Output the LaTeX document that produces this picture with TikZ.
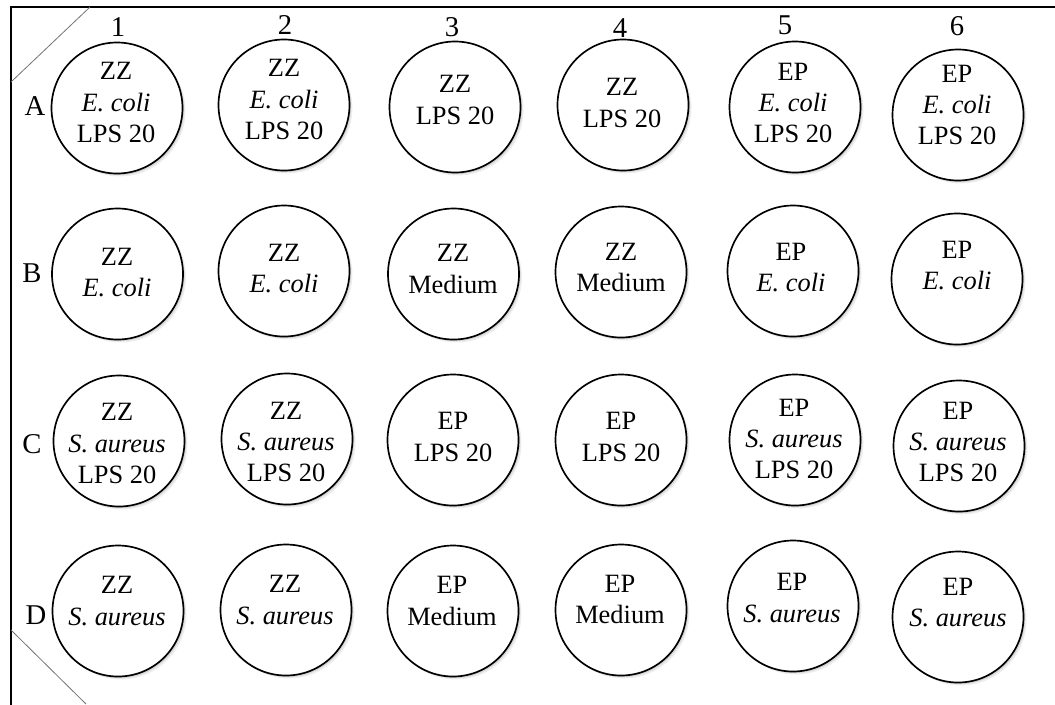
\documentclass[tikz,border=0pt]{standalone}
\usepackage{fontspec}
\setmainfont{Liberation Serif}
\usetikzlibrary{shadows}
\begin{document}
\begin{tikzpicture}[x=0.75pt,y=-0.75pt,
  well/.style={circle, draw=black, line width=1.25pt, fill=white, minimum size=98.25pt, inner sep=0pt,
    drop shadow={shadow xshift=2.2pt, shadow yshift=-2.2pt, fill=black!7, opacity=1},
    drop shadow={shadow xshift=1.2pt, shadow yshift=-1.2pt, fill=black!16, opacity=1}},
  welltext/.style={align=center, inner sep=0pt, font=\fontsize{19.8}{23.3}\selectfont},
  axislabel/.style={inner sep=0pt, font=\fontsize{21.5}{25}\selectfont},
  frameline/.style={line width=1.5pt, line cap=rect},
  cornerline/.style={line width=0.6pt, draw=black!55}]
\useasboundingbox (0,0) rectangle (1055,704);

% frame
\coordinate (fTR) at (1055,7);
\coordinate (fTL) at (11,7);
\coordinate (fBL) at (11,704);
\draw[frameline] (fTR) -- (fTL) -- (fBL);
\coordinate (c1a) at (90,7);
\coordinate (c1b) at (11,82);
\coordinate (c2a) at (11,630);
\coordinate (c2b) at (86,704);
\draw[cornerline] (c1a) -- (c1b);
\draw[cornerline] (c2a) -- (c2b);

% column labels
\node[axislabel] (col1) at (118,27) {1};
\node[axislabel] (col2) at (285,25) {2};
\node[axislabel] (col3) at (452,27) {3};
\node[axislabel] (col4) at (620,28) {4};
\node[axislabel] (col5) at (785,25) {5};
\node[axislabel] (col6) at (957,26) {6};

% row labels
\node[axislabel] (rowA) at (35,106) {A};
\node[axislabel] (rowB) at (32,273) {B};
\node[axislabel] (rowC) at (32,444) {C};
\node[axislabel] (rowD) at (36,615) {D};

% row A
\node[well] (A1) at (117,108) {};
\node[well] (A2) at (284,105) {};
\node[well] (A3) at (455,107) {};
\node[well] (A4) at (623,105) {};
\node[well] (A5) at (795,107) {};
\node[well] (A6) at (958,115) {};
\node[welltext] (tA1) at (116,102.5) {ZZ\\\itshape E. coli\\LPS 20};
\node[welltext] (tA2) at (284,99.5) {ZZ\\\itshape E. coli\\LPS 20};
\node[welltext] (tA3) at (455,100) {ZZ\\LPS 20};
\node[welltext] (tA4) at (622,103) {ZZ\\LPS 20};
\node[welltext] (tA5) at (793,103) {EP\\\itshape E. coli\\LPS 20};
\node[welltext] (tA6) at (957,105) {EP\\\itshape E. coli\\LPS 20};

% row B
\node[well] (B1) at (117.5,274) {};
\node[well] (B2) at (284,271) {};
\node[well] (B3) at (453.5,274) {};
\node[well] (B4) at (621,272) {};
\node[well] (B5) at (793,271) {};
\node[well] (B6) at (957,279) {};
\node[welltext] (tB1) at (117,272.5) {ZZ\\\itshape E. coli};
\node[welltext] (tB2) at (284,268.5) {ZZ\\\itshape E. coli};
\node[welltext] (tB3) at (453,269) {ZZ\\Medium};
\node[welltext] (tB4) at (621,267.5) {ZZ\\Medium};
\node[welltext] (tB5) at (791,267.5) {EP\\\itshape E. coli};
\node[welltext] (tB6) at (957,266) {EP\\\itshape E. coli};

% row C
\node[well] (C1) at (119,441) {};
\node[well] (C2) at (287,439) {};
\node[well] (C3) at (453,440) {};
\node[well] (C4) at (621,440) {};
\node[well] (C5) at (795,440) {};
\node[well] (C6) at (959,446) {};
\node[welltext] (tC1) at (117,443.5) {ZZ\\\itshape S. aureus\\LPS 20};
\node[welltext] (tC2) at (286,442) {ZZ\\\itshape S. aureus\\LPS 20};
\node[welltext] (tC3) at (453,437) {EP\\LPS 20};
\node[welltext] (tC4) at (621,437) {EP\\LPS 20};
\node[welltext] (tC5) at (794,439) {EP\\\itshape S. aureus\\LPS 20};
\node[welltext] (tC6) at (958,442) {EP\\\itshape S. aureus\\LPS 20};

% row D
\node[well] (D1) at (118,611) {};
\node[well] (D2) at (286,610) {};
\node[well] (D3) at (453,611) {};
\node[well] (D4) at (621,610) {};
\node[well] (D5) at (793,606) {};
\node[well] (D6) at (958,617) {};
\node[welltext] (tD1) at (117,601) {ZZ\\\itshape S. aureus};
\node[welltext] (tD2) at (285,600) {ZZ\\\itshape S. aureus};
\node[welltext] (tD3) at (452,601) {EP\\Medium};
\node[welltext] (tD4) at (620,599.5) {EP\\Medium};
\node[welltext] (tD5) at (792,598) {EP\\\itshape S. aureus};
\node[welltext] (tD6) at (958,602.5) {EP\\\itshape S. aureus};
\end{tikzpicture}
\end{document}
